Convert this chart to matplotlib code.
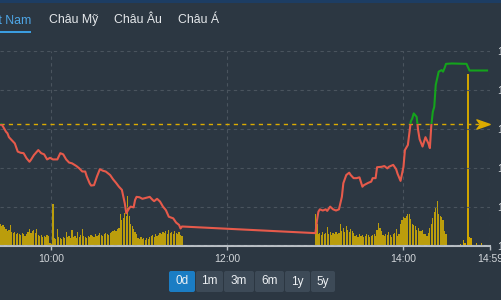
import numpy as np
import matplotlib
matplotlib.use('Agg')
from matplotlib import pyplot as plt
from matplotlib.patches import Rectangle, FancyBboxPatch
from matplotlib.path import Path

plt.rcParams['font.family'] = ['Liberation Sans', 'DejaVu Sans']

BG = '#2c3742'
RED = '#e65a4b'
GREEN = '#14a31c'
GOLD = '#dcab00'
BAR = '#bb9d0c'
GRID = '#4a545e'
TXT = '#d2d6da'

# intraday index
price_times = ['09:24', '09:26', '09:27', '09:29', '09:30', '09:31', '09:35', '09:37', '09:39', '09:41',
               '09:43', '09:45', '09:46', '09:48', '09:51', '09:53', '09:55', '09:57', '09:59', '10:01',
               '10:04', '10:06', '10:08', '10:10', '10:12', '10:14', '10:17', '10:19', '10:21', '10:23',
               '10:24', '10:26', '10:27', '10:29', '10:31', '10:33', '10:35', '10:37', '10:40', '10:42',
               '10:44', '10:46', '10:48', '10:49', '10:50', '10:51', '10:53', '10:54', '10:56', '10:57',
               '10:58', '11:00', '11:02', '11:05', '11:07', '11:09', '11:10', '11:12', '11:14', '11:16',
               '11:18', '11:20', '11:23', '11:25', '11:27', '11:28', '11:29',
               '13:00', '13:01', '13:02', '13:03', '13:05', '13:07', '13:08', '13:10', '13:12', '13:14',
               '13:16', '13:18', '13:19', '13:21', '13:23', '13:24', '13:26', '13:28', '13:30', '13:32',
               '13:33', '13:36', '13:38', '13:39', '13:41', '13:42', '13:45', '13:47', '13:49', '13:50',
               '13:53', '13:55', '13:56', '13:58', '14:00', '14:01', '14:03', '14:04', '14:05', '14:06',
               '14:07', '14:09', '14:10', '14:11', '14:13', '14:15', '14:17', '14:18', '14:19', '14:20',
               '14:21', '14:22', '14:24', '14:26', '14:27', '14:28', '14:29', '14:33', '14:43', '14:45',
               '14:57']
price_vals = [1131.0, 1131.2, 1130.6, 1129.3, 1128.9, 1127.9, 1126.3, 1124.2, 1123.9, 1123.8,
              1122.5, 1121.6, 1122.1, 1123.3, 1124.6, 1123.8, 1123.5, 1122.2, 1122.6, 1122.2,
              1122.2, 1123.8, 1123.5, 1122.2, 1121.4, 1121.2, 1120.5, 1119.9, 1119.1, 1119.1,
              1117.9, 1116.1, 1115.5, 1115.6, 1117.8, 1119.7, 1119.3, 1119.1, 1118.2, 1117.1,
              1116.2, 1115.2, 1114.4, 1112.6, 1110.9, 1108.4, 1109.7, 1110.1, 1109.9, 1111.8,
              1112.6, 1112.5, 1112.1, 1112.4, 1112.6, 1111.8, 1111.5, 1112.1, 1111.4, 1110.1,
              1109.2, 1107.5, 1107.1, 1106.0, 1105.4, 1104.5, 1105.0,
              1103.3, 1106.5, 1108.8, 1109.4, 1109.1, 1109.4, 1109.0, 1110.1, 1109.4, 1109.1,
              1109.4, 1112.6, 1116.1, 1118.2, 1118.8, 1118.2, 1117.4, 1117.4, 1117.6, 1115.2,
              1115.6, 1116.2, 1116.5, 1117.4, 1117.4, 1120.2, 1120.3, 1120.5, 1119.9, 1120.3,
              1120.8, 1119.7, 1118.5, 1116.7, 1120.3, 1124.6, 1125.9, 1128.9, 1131.9, 1132.7,
              1134.0, 1133.1, 1129.7, 1127.4, 1125.5, 1127.9, 1126.3, 1125.1, 1131.0, 1134.4,
              1135.7, 1141.3, 1144.7, 1145.1, 1144.7, 1145.6, 1146.7, 1146.8, 1146.7, 1145.0,
              1145.0]
ref_price = 1131.2

# one volume bar per minute
vol_am_start = '09:25'
vol_am = [22, 20, 21, 19, 17, 15, 16, 21, 14, 13, 14, 12, 13, 12, 11, 13, 12, 10, 12,
          14, 17, 13, 15, 16, 13, 17, 11, 10, 11, 9, 10, 9, 11, 10, 3, 2, 42,
          8, 7, 17, 9, 8, 7, 9, 8, 14, 9, 10, 8, 16, 9, 10, 8, 14, 9, 11, 17, 10, 9, 8,
          10, 9, 11, 10, 9, 12, 10, 11, 13, 11, 10, 12, 13, 12, 11, 13, 14, 15,
          16, 15, 17, 18, 32, 26, 28, 33, 30, 50, 30, 22, 20, 17, 14, 12,
          8, 7, 9, 7, 8, 6, 8, 7, 9, 10, 11, 9, 12, 10, 11, 13,
          12, 14, 13, 15, 12, 16, 13, 14, 12, 15, 13, 12, 14, 11, 10]
vol_pm_start = '13:00'
vol_pm = [32, 22, 12, 13, 11, 14, 12, 13, 19, 12, 14, 11, 13, 12, 14, 12, 13,
          22, 15, 18, 14, 20, 16, 14, 17, 15, 13,
          10, 11, 9, 12, 10, 11, 9, 10, 12, 11, 9, 10, 11, 12, 10,
          16, 23, 18, 15, 11, 10, 12, 11, 14, 11, 9, 12, 13, 17, 10, 12,
          22, 26, 29, 28, 30, 32, 32, 27, 22,
          21, 20, 16, 18, 15, 15, 16, 12, 12, 10, 13,
          18, 22, 28, 34, 38, 45, 32, 30, 29, 26, 15, 12]
late_times = ['14:36', '14:38', '14:39', '14:41', '14:42', '14:44', '14:45', '14:46', '14:50', '14:53', '14:55']
late_vol = [1, 1, 2, 6, 3, 172, 9, 8, 3, 3, 1]

tabs = ['Việt Nam', 'Châu Mỹ', 'Châu Âu', 'Châu Á']
ranges = ['0d', '1m', '3m', '6m', '1y', '5y']
x_labels = ['10:00', '12:00', '14:00', '14:59']
y_ticks = [1100, 1110, 1120, 1130, 1140, 1150]


def to_min(s):
    h, m = s.split(':')
    return int(h) * 60 + int(m)


fig = plt.figure(figsize=(5.01, 3.0), dpi=100, facecolor=BG)

# page chrome drawn in pixel coords
ui = fig.add_axes([0, 0, 1, 1], zorder=0)
ui.set_xlim(0, 501)
ui.set_ylim(300, 0)
ui.axis('off')
ui.add_patch(Rectangle((0, 0), 501, 3, color='#1d3d63', lw=0))

tab_x = [31, 49, 114, 178]
ui.text(tab_x[0], 20, tabs[0], color='#4ea6e6', fontsize=8.8, ha='right', va='center')
ui.add_patch(Rectangle((0, 30.5), 31, 2.5, color='#3b9de0', lw=0))
for name, x in zip(tabs[1:], tab_x[1:]):
    ui.text(x, 20, name, color='#e6e9ec', fontsize=8.8, ha='left', va='center')

btn_edges = [(169, 195), (196, 223), (224, 254), (255, 284), (285, 310), (311, 335)]
for i, (lbl, (x0, x1)) in enumerate(zip(ranges, btn_edges)):
    fc = '#1b7dc4' if i == 0 else '#3d4a57'
    ui.add_patch(FancyBboxPatch((x0, 271), x1 - x0, 21, boxstyle='round,pad=0,rounding_size=2',
                                fc=fc, ec='none'))
    ui.text((x0 + x1) / 2, 281.5, lbl, color='#eef1f4', fontsize=8.5, ha='center', va='center')

# chart
t_min, t_max = 564.9, 899
ax_vol = fig.add_axes([0, 54 / 300, 490 / 501, 195 / 300], zorder=1)
ax_vol.set_facecolor(BG)
ax = ax_vol.twinx()

am_t = to_min(vol_am_start) + np.arange(len(vol_am))
pm_t = to_min(vol_pm_start) + np.arange(len(vol_pm))
lt_t = [to_min(s) for s in late_times]
ax_vol.bar(am_t, vol_am, width=0.8, color=BAR, lw=0)
ax_vol.bar(pm_t, vol_pm, width=0.8, color=BAR, lw=0)
ax_vol.bar(lt_t, late_vol, width=0.9, color='#cfa400', lw=0)
ax_vol.set_ylim(0, 195)
ax_vol.set_yticks([])
ax_vol.set_xlim(t_min, t_max)
ax_vol.set_xticks([to_min(s) for s in x_labels])
ax_vol.set_xticklabels(x_labels)
ax_vol.tick_params(axis='x', colors='#b8bec4', labelcolor=TXT, labelsize=7.5, length=3, width=1, pad=3)
ax_vol.grid(axis='x', color=GRID, lw=0.8, dashes=(3, 3))
ax_vol.set_axisbelow(True)
for s in ['top', 'left', 'right']:
    ax_vol.spines[s].set_visible(False)
ax_vol.spines['bottom'].set_color('#b8bec4')
ax_vol.spines['bottom'].set_linewidth(1.5)

pt = [to_min(s) for s in price_times]
ax.set_ylim(1100, 1150)
ax.set_yticks(y_ticks)
ax.set_yticklabels([f'{v:,}' for v in y_ticks])
ax.tick_params(axis='y', length=0, pad=5, labelsize=7.5, labelcolor=TXT)
ax.grid(axis='y', color=GRID, lw=0.8, dashes=(3, 3))
ax.set_axisbelow(True)
for s in ax.spines.values():
    s.set_visible(False)

ax.axhline(ref_price, xmax=0.98, color=GOLD, lw=1, dashes=(3, 3))

red_line, = ax.plot(pt, price_vals, color=RED, lw=1.5)
green_line, = ax.plot(pt, price_vals, color=GREEN, lw=1.5)
red_line.set_clip_path(Rectangle((t_min, 1000), t_max - t_min, ref_price - 1000, transform=ax.transData))
green_line.set_clip_path(Rectangle((t_min, ref_price), t_max - t_min, 1000, transform=ax.transData))

arrow = Path([(-1, -0.7), (1, 0), (-1, 0.7), (-0.45, 0), (-1, -0.7)],
             [Path.MOVETO, Path.LINETO, Path.LINETO, Path.LINETO, Path.CLOSEPOLY])
ax.plot([894], [ref_price], marker=arrow, markersize=9.5, color=GOLD, mec=GOLD, lw=0)
ax.set_xlim(t_min, t_max)

plt.savefig('out.png', dpi=100, facecolor=BG)
